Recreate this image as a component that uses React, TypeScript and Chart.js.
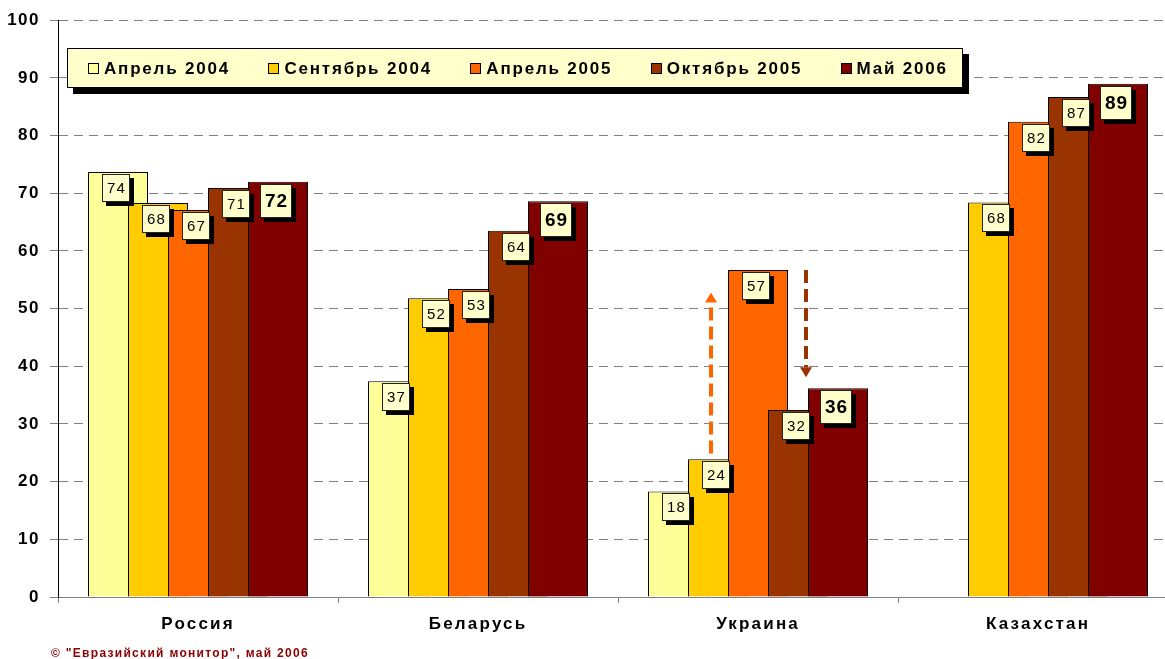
import React, { useEffect, useRef } from 'react';
import { Chart, registerables } from 'chart.js';

Chart.register(...registerables);

const FONT = 'Arial, "Liberation Sans", sans-serif';

const categories = ['Россия', 'Беларусь', 'Украина', 'Казахстан'];
const seriesNames = ['Апрель 2004', 'Сентябрь 2004', 'Апрель 2005', 'Октябрь 2005', 'Май 2006'];
const seriesColors = ['#FFFF99', '#FFCC00', '#FF6600', '#993300', '#800000'];

const apr2004 = [73.7, 37.4, 18.3, null];
const sep2004 = [68.3, 51.8, 23.9, 68.4];
const apr2005 = [67.1, 53.4, 56.7, 82.4];
const oct2005 = [70.9, 63.5, 32.4, 86.7];
const may2006 = [72.0, 68.6, 36.2, 89.0];

const yMin = 0;
const yMax = 100;
const yStep = 10;

const footnote = '© "Евразийский монитор", май 2006';

// annotation arrows on Ukraine: offset in category units, from value, to value, colour
const arrowCategory = 2;
const arrowOffsets = [-0.168, 0.172];
const arrowFrom = [24.9, 56.7];
const arrowTo = [52.8, 38.1];
const arrowColors = ['#FF6600', '#993300'];

const seriesData = [apr2004, sep2004, apr2005, oct2005, may2006];

function spacedText(ctx: CanvasRenderingContext2D, text: string, x: number, y: number, align: string, spacing: number) {
  (ctx as any).letterSpacing = spacing + 'px';
  ctx.textAlign = 'left';
  const w = ctx.measureText(text).width - spacing;
  let sx = x;
  if (align === 'center') sx = x - w / 2;
  else if (align === 'right') sx = x - w;
  ctx.fillText(text, sx, y);
  (ctx as any).letterSpacing = '0px';
  return w;
}

const forwardOrderPlugin = {
  id: 'forwardOrder',
  beforeDraw(chart: any) {
    chart.ctx.letterSpacing = '1.5px';
  },
  beforeDatasetsDraw(chart: any) {
    const metas = chart.getSortedVisibleDatasetMetas();
    const ctx = chart.ctx;
    ctx.save();
    for (const meta of metas) meta.controller.draw();
    ctx.restore();
    return false;
  },
};

const overlayPlugin = {
  id: 'overlay',
  afterDraw(chart: any) {
    const ctx: CanvasRenderingContext2D = chart.ctx;
    const xs = chart.scales.x;
    const ys = chart.scales.y;
    ctx.save();

    // arrows
    const catW = xs.getPixelForValue(1) - xs.getPixelForValue(0);
    for (let k = 0; k < arrowFrom.length; k++) {
      const ax = Math.round(xs.getPixelForValue(arrowCategory) + arrowOffsets[k] * catW);
      const y0 = ys.getPixelForValue(arrowFrom[k]);
      const yt = ys.getPixelForValue(arrowTo[k]);
      const dir = yt < y0 ? -1 : 1;
      const head = 10;
      ctx.strokeStyle = arrowColors[k];
      ctx.fillStyle = arrowColors[k];
      ctx.lineWidth = 4;
      ctx.setLineDash([13, 6]);
      ctx.beginPath();
      ctx.moveTo(ax, y0);
      ctx.lineTo(ax, yt - dir * head);
      ctx.stroke();
      ctx.setLineDash([]);
      ctx.beginPath();
      ctx.moveTo(ax, yt);
      ctx.lineTo(ax - 6, yt - dir * head);
      ctx.lineTo(ax + 6, yt - dir * head);
      ctx.closePath();
      ctx.fill();
    }

    // data labels
    chart.data.datasets.forEach((ds: any, i: number) => {
      const meta = chart.getDatasetMeta(i);
      const bold = i === seriesNames.length - 1;
      ds.data.forEach((v: number | null, j: number) => {
        if (v == null) return;
        const el = meta.data[j];
        const w = bold ? 32 : 28;
        const h = bold ? 34 : 28;
        const bx = Math.round(el.x - 2 - w / 2);
        const by = Math.round(el.y + 2);
        ctx.fillStyle = '#000';
        ctx.fillRect(bx + 4, by + 4, w, h);
        ctx.fillStyle = '#FFFFCC';
        ctx.fillRect(bx, by, w, h);
        ctx.strokeStyle = '#222';
        ctx.lineWidth = 1;
        ctx.strokeRect(bx + 0.5, by + 0.5, w - 1, h - 1);
        ctx.fillStyle = '#000';
        ctx.font = bold ? `bold 19px ${FONT}` : `15px ${FONT}`;
        ctx.textBaseline = 'middle';
        spacedText(ctx, String(Math.round(v)), bx + w / 2, by + h / 2 + 1, 'center', bold ? 1 : 1.2);
      });
    });

    // x category labels
    ctx.fillStyle = '#000';
    ctx.font = `bold 17px ${FONT}`;
    ctx.textBaseline = 'alphabetic';
    categories.forEach((c, j) => {
      spacedText(ctx, c, xs.getPixelForValue(j) - 1, 629, 'center', 2.2);
    });

    // legend
    const lx = 67, ly = 48, lw = 896, lh = 40;
    ctx.fillStyle = '#000';
    ctx.fillRect(lx + 6, ly + 6, lw, lh);
    ctx.fillStyle = '#FFFFCC';
    ctx.fillRect(lx, ly, lw, lh);
    ctx.strokeStyle = '#000';
    ctx.lineWidth = 1;
    ctx.strokeRect(lx + 0.5, ly + 0.5, lw - 1, lh - 1);
    ctx.font = `bold 17px ${FONT}`;
    ctx.textBaseline = 'middle';
    const spacing = 1.8;
    (ctx as any).letterSpacing = spacing + 'px';
    const widths = seriesNames.map((n) => ctx.measureText(n).width - spacing);
    (ctx as any).letterSpacing = '0px';
    const icon = 11, gapIcon = 5;
    const startX = lx + 21, endX = lx + lw - 17;
    const total = widths.reduce((a, b) => a + b + icon + gapIcon, 0);
    const gap = (endX - startX - total) / (seriesNames.length - 1);
    let cx = startX;
    const cy = ly + lh / 2;
    seriesNames.forEach((n, i) => {
      ctx.fillStyle = seriesColors[i];
      ctx.fillRect(Math.round(cx), Math.round(cy - icon / 2), icon, icon);
      ctx.strokeStyle = '#000';
      ctx.strokeRect(Math.round(cx) + 0.5, Math.round(cy - icon / 2) + 0.5, icon - 1, icon - 1);
      ctx.fillStyle = '#000';
      spacedText(ctx, n, cx + icon + gapIcon, cy + 1, 'left', spacing);
      cx += icon + gapIcon + widths[i] + gap;
    });

    // footnote
    ctx.fillStyle = '#8B0000';
    ctx.font = `bold 12px ${FONT}`;
    ctx.textBaseline = 'alphabetic';
    spacedText(ctx, footnote, 51, 657, 'left', 1.3);

    ctx.restore();
  },
};

export default function App() {
  const ref = useRef<HTMLCanvasElement>(null);
  useEffect(() => {
    document.body.style.margin = '0';
    document.body.style.overflow = 'hidden';
    const canvas = ref.current!;
    const chart = new Chart(canvas, {
      type: 'bar',
      data: {
        labels: categories,
        datasets: seriesNames.map((name, i) => ({
          label: name,
          data: seriesData[i],
          backgroundColor: seriesColors[i],
          borderColor: '#000',
          borderWidth: 1,
          categoryPercentage: 200 / 280,
          barPercentage: 1.5,
        })),
      },
      options: {
        animation: false,
        responsive: false,
        events: [],
        layout: { padding: { top: 19, left: 0, right: 0, bottom: 0 } },
        plugins: {
          legend: { display: false },
          tooltip: { enabled: false },
          title: { display: false },
        },
        scales: {
          x: {
            type: 'category',
            grid: {
              offset: true,
              drawOnChartArea: false,
              drawTicks: true,
              tickLength: 6,
              color: '#808080',
              tickColor: '#808080',
            },
            border: { display: true, color: '#808080', width: 1 },
            ticks: { color: 'rgba(0,0,0,0)', font: { family: FONT, size: 17, weight: 'bold' } },
            afterFit: (scale: any) => {
              scale.height = 62;
            },
          },
          y: {
            min: yMin,
            max: yMax,
            ticks: {
              stepSize: yStep,
              color: '#000',
              padding: 10,
              font: { family: FONT, size: 17, weight: 'bold' },
            },
            grid: {
              color: '#808080',
              tickColor: '#808080',
              tickLength: 8,
              drawTicks: true,
            },
            border: { display: true, color: '#000', width: 1, dash: [9, 6] },
            afterFit: (scale: any) => {
              scale.width = 58;
            },
          },
        },
      } as any,
      plugins: [forwardOrderPlugin, overlayPlugin],
    });
    return () => chart.destroy();
  }, []);
  return (
    <div style={{ width: 1165, height: 659, overflow: 'hidden', position: 'relative' }}>
      <canvas ref={ref} width={1178} height={659} style={{ display: 'block' }} />
    </div>
  );
}
